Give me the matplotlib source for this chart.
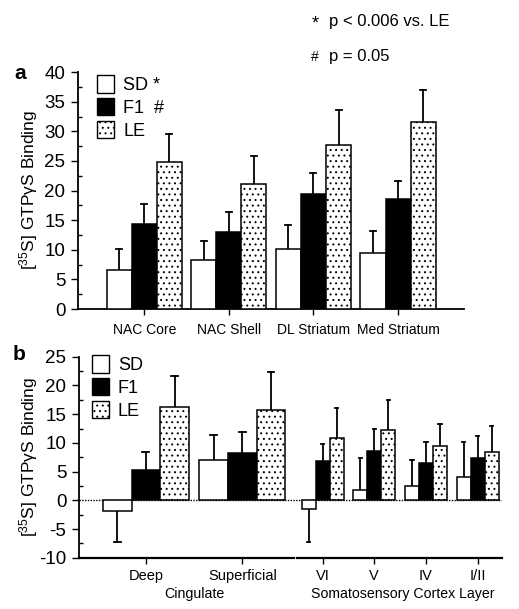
import numpy as np
import matplotlib
matplotlib.use("Agg")
import matplotlib.pyplot as plt
from matplotlib.patches import Patch
from matplotlib.ticker import MultipleLocator

plt.rcParams['font.family'] = ['Liberation Sans', 'DejaVu Sans']
plt.rcParams['mathtext.default'] = 'regular'
plt.rcParams['axes.unicode_minus'] = False
plt.rcParams['hatch.linewidth'] = 0.7

# panel a data
regions_a = ["NAC Core", "NAC Shell", "DL Striatum", "Med Striatum"]
sd_a = [6.6, 8.3, 10.2, 9.5]
sd_a_err = [3.5, 3.2, 3.9, 3.7]
f1_a = [14.3, 13.0, 19.5, 18.5]
f1_a_err = [3.5, 3.4, 3.5, 3.1]
le_a = [24.8, 21.1, 27.7, 31.5]
le_a_err = [4.7, 4.7, 5.9, 5.4]

# panel b data
regions_b = ["Deep", "Superficial", "VI", "V", "IV", "I/II"]
sd_b = [-1.8, 7.0, -1.5, 1.8, 2.5, 4.0]
sd_b_err = [5.5, 4.4, 5.7, 5.5, 4.6, 6.1]
f1_b = [5.3, 8.3, 6.9, 8.6, 6.5, 7.3]
f1_b_err = [3.1, 3.6, 2.9, 3.8, 3.6, 3.9]
le_b = [16.2, 15.8, 10.8, 12.2, 9.4, 8.4]
le_b_err = [5.5, 6.5, 5.2, 5.3, 3.9, 4.6]

ylabel = "[$^{35}$S] GTPγS Binding"

fig = plt.figure(figsize=(5.19, 6.09), dpi=100)


def style_axis(ax, ymin, ymax, xsize):
    ax.spines['top'].set_visible(False)
    ax.spines['right'].set_visible(False)
    ax.spines['left'].set_linewidth(1.3)
    ax.spines['bottom'].set_linewidth(1.3)
    ax.set_ylim(ymin, ymax)
    ax.yaxis.set_major_locator(MultipleLocator(5))
    ax.yaxis.set_minor_locator(MultipleLocator(2.5))
    ax.tick_params(axis='y', which='major', direction='out', length=5, width=1,
                   labelsize=13.5, pad=4)
    ax.tick_params(axis='y', which='minor', direction='in', length=3, width=1)
    ax.tick_params(axis='x', which='major', direction='out', length=4, width=1,
                   labelsize=xsize)
    ax.set_ylabel(ylabel, fontsize=12.5, labelpad=2)


def draw_bars(ax, x, w, vals, errs, face, hatch=None):
    for xi, v, e in zip(x, vals, errs):
        ax.bar(xi, v, w, color=face, edgecolor='black', linewidth=1.1,
               hatch=hatch, zorder=3)
        top = v + e if v >= 0 else v - e
        ax.plot([xi, xi], [v, top], color='black', lw=1.3, zorder=2)
        ax.plot([xi - w * 0.12, xi + w * 0.12], [top, top], color='black',
                lw=1.3, zorder=2)


def legend(ax, labels, anchor):
    h = [Patch(facecolor='white', edgecolor='black', label=labels[0]),
         Patch(facecolor='black', edgecolor='black', label=labels[1]),
         Patch(facecolor='white', edgecolor='black', hatch='...',
               label=labels[2])]
    ax.legend(handles=h, loc='upper left', bbox_to_anchor=anchor,
              frameon=False, fontsize=13, handlelength=0.95, handleheight=1.1,
              handletextpad=0.5, labelspacing=0.22, borderpad=0.2)


# ---- panel a
ax1 = fig.add_axes([0.150, 0.4926, 0.744, 0.389])
xa = np.arange(len(regions_a))
wa = 0.296
draw_bars(ax1, xa - wa, wa, sd_a, sd_a_err, 'white')
draw_bars(ax1, xa, wa, f1_a, f1_a_err, 'black')
draw_bars(ax1, xa + wa, wa, le_a, le_a_err, 'white', '...')
ax1.set_xlim(-0.787, 3.78)
style_axis(ax1, 0, 40, 10)
ax1.set_xticks(xa)
ax1.set_xticklabels(regions_a)
ax1.tick_params(axis='x', pad=6)
legend(ax1, ['SD *', 'F1  #', 'LE'], (0.017, 1.04))

fig.text(0.027, 0.880, 'a', fontsize=15, fontweight='bold', va='center')
fig.text(0.600, 0.960, '*', fontsize=13, va='center')
fig.text(0.634, 0.964, 'p < 0.006 vs. LE', fontsize=12, va='center')
fig.text(0.600, 0.907, '#', fontsize=10, va='center')
fig.text(0.634, 0.908, 'p = 0.05', fontsize=12, va='center')

# ---- panel b
ax2 = fig.add_axes([0.152, 0.0842, 0.815, 0.330])
xc = np.arange(2)
wc = 0.297
xs = 1.832 + 0.535 * np.arange(4)
ws = 0.145
xb = np.concatenate([xc, xs])
for grp, w in ((slice(0, 2), wc), (slice(2, 6), ws)):
    xx = xb[grp]
    draw_bars(ax2, xx - w, w, sd_b[grp], sd_b_err[grp], 'white')
    draw_bars(ax2, xx, w, f1_b[grp], f1_b_err[grp], 'black')
    draw_bars(ax2, xx + w, w, le_b[grp], le_b_err[grp], 'white', '...')
ax2.axhline(0, color='black', lw=1, ls=(0, (1, 1)), zorder=1)
ax2.set_xlim(-0.694, 3.689)
style_axis(ax2, -10, 25, 10.5)
ax2.spines['bottom'].set_visible(False)
# broken baseline between the two region sets
for x0, x1 in ((-0.694, 1.53), (1.57, 2.63), (2.65, 3.689)):
    ax2.plot([x0, x1], [-10, -10], color='black', lw=1.6, clip_on=False,
             zorder=4)
ax2.set_xticks(xb)
ax2.set_xticklabels(regions_b)
ax2.tick_params(axis='x', pad=4)
ax2.text(0.5, -16.4, 'Cingulate', ha='center', va='center', fontsize=10.2)
ax2.text(2.66, -16.4, 'Somatosensory Cortex Layer', ha='center',
         va='center', fontsize=10.2)
legend(ax2, ['SD', 'F1', 'LE'], (0.0, 1.07))

fig.text(0.025, 0.418, 'b', fontsize=15, fontweight='bold', va='center')
ax1.yaxis.set_label_coords(-0.099, 0.5)
ax2.yaxis.set_label_coords(-0.093, 0.5)

fig.savefig('out.png', dpi=100)
